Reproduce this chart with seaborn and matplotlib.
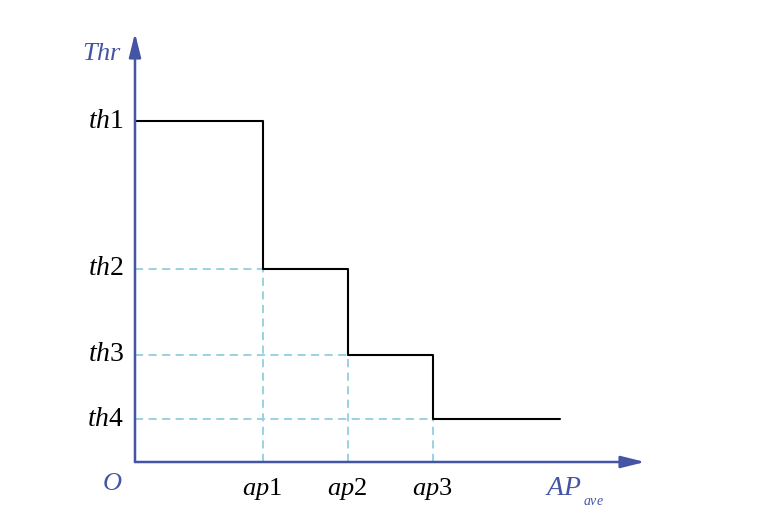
import matplotlib
matplotlib.use("Agg")
import seaborn as sns
import matplotlib.pyplot as plt
import pandas as pd

# step values
ap_pos = [1.5, 2.5, 3.5]
th_vals = [7.93, 4.5, 2.5, 1.0]
x_end = 5.0
ap_labels = ["$ap1$", "$ap2$", "$ap3$"]
th_labels = ["$th1$", "$th2$", "$th3$", "$th4$"]

sns.set_style("white")
plt.rcParams["mathtext.fontset"] = "custom"
plt.rcParams["mathtext.rm"] = "Liberation Serif"
plt.rcParams["mathtext.it"] = "Liberation Serif:italic"
plt.rcParams["font.family"] = ["Liberation Serif", "DejaVu Serif"]

axis_col = "#4455a6"
dash_col = "#92cfe2"

df = pd.DataFrame({"x": [0] + ap_pos + [x_end], "y": th_vals + [th_vals[-1]]})

fig = plt.figure(figsize=(7.58, 5.23), dpi=100)
ax = fig.add_axes([135 / 758, 61 / 523, 510 / 758, 429 / 523])
xmax, ymax = 6.0, 429 / 43
ax.set_xlim(0, xmax)
ax.set_ylim(0, ymax)

# guide lines
for a, t in zip(ap_pos, th_vals[1:]):
    ax.plot([0, a], [t, t], color=dash_col, lw=1.3, ls=(0, (4.5, 3)))
    ax.plot([a, a], [0, t], color=dash_col, lw=1.3, ls=(0, (4.5, 3)))

sns.lineplot(data=df, x="x", y="y", drawstyle="steps-post", color="black",
             lw=1.5, estimator=None, ax=ax)

for s in ax.spines.values():
    s.set_visible(False)
ax.set_xticks([])
ax.set_yticks([])
ax.set_xlabel("")
ax.set_ylabel("")

# axes with arrows
arrow = dict(arrowstyle="-|>,head_length=1.45,head_width=0.36",
             color=axis_col, lw=1.8, shrinkA=0, shrinkB=0)
ax.annotate("", xy=(xmax, 0), xytext=(0, 0), arrowprops=arrow,
            annotation_clip=False)
ax.annotate("", xy=(0, ymax), xytext=(0, 0), arrowprops=arrow,
            annotation_clip=False)

fs = 20
for t, lab in zip(th_vals, th_labels):
    ax.text(-0.13, t, lab, ha="right", va="center", fontsize=fs,
            color="black", clip_on=False)
for a, lab in zip(ap_pos, ap_labels):
    ax.text(a, -0.62, lab, ha="center", va="center", fontsize=fs - 1,
            color="black", clip_on=False)

ax.text(-0.27, -0.5, "$O$", ha="center", va="center", fontsize=fs - 1,
        color=axis_col, clip_on=False)
ax.text(-0.15, 9.5, "$Thr$", ha="right", va="center", fontsize=fs - 1,
        color=axis_col, clip_on=False)
ax.text(4.82, -0.62, "$AP$", ha="left", va="center", fontsize=fs,
        color=axis_col, clip_on=False)
ax.text(5.27, -0.93, "$ave$", ha="left", va="center", fontsize=10,
        color=axis_col, clip_on=False)

fig.savefig("out.png", dpi=100)
